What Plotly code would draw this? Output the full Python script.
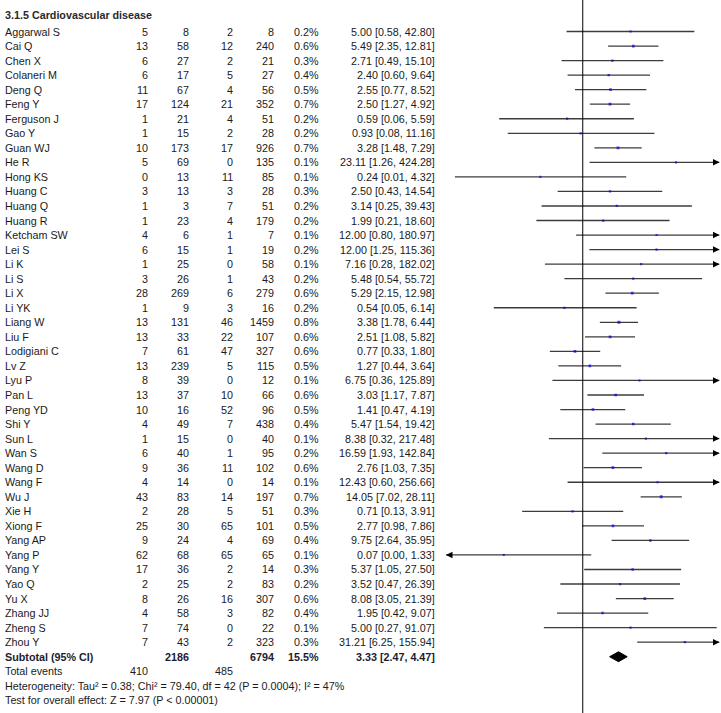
import math
import plotly.graph_objects as go

# ---------------- data ----------------
studies = ["Aggarwal S", "Cai Q", "Chen X", "Colaneri M", "Deng Q", "Feng Y", "Ferguson J",
           "Gao Y", "Guan WJ", "He R", "Hong KS", "Huang C", "Huang Q", "Huang R",
           "Ketcham SW", "Lei S", "Li K", "Li S", "Li X", "Li YK", "Liang W", "Liu F",
           "Lodigiani C", "Lv Z", "Lyu P", "Pan L", "Peng YD", "Shi Y", "Sun L", "Wan S",
           "Wang D", "Wang F", "Wu J", "Xie H", "Xiong F", "Yang AP", "Yang P", "Yang Y",
           "Yao Q", "Yu X", "Zhang JJ", "Zheng S", "Zhou Y"]
events_exp = [5, 13, 6, 6, 11, 17, 1, 1, 10, 5, 0, 3, 1, 1, 4, 6, 1, 3, 28, 1, 13, 13, 7, 13,
              8, 13, 10, 4, 1, 6, 9, 4, 43, 2, 25, 9, 62, 17, 2, 8, 4, 7, 7]
total_exp = [8, 58, 27, 17, 67, 124, 21, 15, 173, 69, 13, 13, 3, 23, 6, 15, 25, 26, 269, 9,
             131, 33, 61, 239, 39, 37, 16, 49, 15, 40, 36, 14, 83, 28, 30, 24, 68, 36, 25,
             26, 58, 74, 43]
events_ctl = [2, 12, 2, 5, 4, 21, 4, 2, 17, 0, 11, 3, 7, 4, 1, 1, 0, 1, 6, 3, 46, 22, 47, 5,
              0, 10, 52, 7, 0, 1, 11, 0, 14, 5, 65, 4, 65, 2, 2, 16, 3, 0, 2]
total_ctl = [8, 240, 21, 27, 56, 352, 51, 28, 926, 135, 85, 28, 51, 179, 7, 19, 58, 43, 279,
             16, 1459, 107, 327, 115, 12, 66, 96, 438, 40, 95, 102, 14, 197, 51, 101, 69, 65,
             14, 83, 307, 82, 22, 323]
weight = [0.2, 0.6, 0.3, 0.4, 0.5, 0.7, 0.2, 0.2, 0.7, 0.1, 0.1, 0.3, 0.2, 0.2, 0.1, 0.2, 0.1,
          0.2, 0.6, 0.2, 0.8, 0.6, 0.6, 0.5, 0.1, 0.6, 0.5, 0.4, 0.1, 0.2, 0.6, 0.1, 0.7, 0.3,
          0.5, 0.4, 0.1, 0.3, 0.2, 0.6, 0.4, 0.1, 0.3]
odds_ratio = [5.00, 5.49, 2.71, 2.40, 2.55, 2.50, 0.59, 0.93, 3.28, 23.11, 0.24, 2.50, 3.14,
              1.99, 12.00, 12.00, 7.16, 5.48, 5.29, 0.54, 3.38, 2.51, 0.77, 1.27, 6.75, 3.03,
              1.41, 5.47, 8.38, 16.59, 2.76, 12.43, 14.05, 0.71, 2.77, 9.75, 0.07, 5.37, 3.52,
              8.08, 1.95, 5.00, 31.21]
ci_low = [0.58, 2.35, 0.49, 0.60, 0.77, 1.27, 0.06, 0.08, 1.48, 1.26, 0.0135, 0.43, 0.25,
          0.21, 0.80, 1.25, 0.28, 0.54, 2.15, 0.05, 1.78, 1.08, 0.33, 0.44, 0.36, 1.17, 0.47,
          1.54, 0.32, 1.93, 1.03, 0.60, 7.02, 0.13, 0.98, 2.64, 0.004, 1.05, 0.47, 3.05, 0.42,
          0.27, 6.25]
ci_high = [42.80, 12.81, 15.10, 9.64, 8.52, 4.92, 5.59, 11.16, 7.29, 424.28, 4.32, 14.54,
           39.43, 18.60, 180.97, 115.36, 182.02, 55.72, 12.98, 6.14, 6.44, 5.82, 1.80, 3.64,
           125.89, 7.87, 4.19, 19.42, 217.48, 142.84, 7.35, 256.66, 28.11, 3.91, 7.86, 35.95,
           1.33, 27.50, 26.39, 21.39, 9.07, 91.07, 155.94]

subgroup_title = "3.1.5 Cardiovascular disease"
subtotal_label = "Subtotal (95% CI)"
subtotal_total_exp = 2186
subtotal_total_ctl = 6794
subtotal_weight = 15.5
subtotal_or = 3.33
subtotal_low = 2.47
subtotal_high = 4.47
total_events_exp = 410
total_events_ctl = 485
heterogeneity_text = "Heterogeneity: Tau\u00b2 = 0.38; Chi\u00b2 = 79.40, df = 42 (P = 0.0004); I\u00b2 = 47%"
overall_text = "Test for overall effect: Z = 7.97 (P < 0.00001)"

axis_min, axis_max = 0.01, 100

# ---------------- layout constants ----------------
W, H = 721, 713
ROW0_PX, ROW_PX = 31.5, 14.54
FONT = "Arial, 'Liberation Sans', sans-serif"
FS = 10.75
TXT = "#1a1a1a"
col_name = 3
col_right = [149.5, 190.5, 234.5, 275.5, 320.5, 437.5]
plot_left, plot_right = 446, 719.5

n = len(studies)
rows = list(range(n))
sub_row = n
tot_row = n + 1
het_row = n + 2
test_row = n + 3
title_row = -1.13

fig = go.Figure()

# CI lines
for i in rows:
    lo = max(ci_low[i], axis_min)
    hi = min(ci_high[i], axis_max)
    fig.add_trace(go.Scatter(x=[lo, hi], y=[i, i], mode="lines",
                             line=dict(color="#3c3c3c", width=1.3),
                             hoverinfo="skip", showlegend=False))

# point estimates
fig.add_trace(go.Scatter(x=odds_ratio, y=rows, mode="markers",
                         marker=dict(symbol="square", color="#0000ee",
                                     size=[2.0 + w * 1.2 for w in weight], line=dict(width=0)),
                         hoverinfo="skip", showlegend=False))

# subtotal diamond
dh = 0.34
fig.add_trace(go.Scatter(x=[subtotal_low, subtotal_or, subtotal_high, subtotal_or, subtotal_low],
                         y=[sub_row, sub_row - dh, sub_row, sub_row + dh, sub_row],
                         mode="lines", fill="toself", fillcolor="black",
                         line=dict(color="black", width=1), hoverinfo="skip", showlegend=False))

y_top = -ROW0_PX / ROW_PX
y_bot = (H - ROW0_PX) / ROW_PX

# line of no effect
fig.add_trace(go.Scatter(x=[1, 1], y=[y_top, y_bot], mode="lines",
                         line=dict(color="black", width=1), hoverinfo="skip", showlegend=False))

annotations = []

# arrowheads for clipped CIs
for i in rows:
    if ci_high[i] > axis_max:
        annotations.append(dict(x=math.log10(axis_max), y=i, xref="x", yref="y", ax=-7, ay=0,
                                showarrow=True, arrowhead=2, arrowsize=1, arrowwidth=1.3,
                                arrowcolor="black", text="", standoff=0))
    if ci_low[i] < axis_min:
        annotations.append(dict(x=math.log10(axis_min), y=i, xref="x", yref="y", ax=7, ay=0,
                                showarrow=True, arrowhead=2, arrowsize=1, arrowwidth=1.3,
                                arrowcolor="black", text="", standoff=0))


def txt(x_px, y, s, anchor="right", bold=False, color=TXT):
    annotations.append(dict(x=x_px / W, y=y, xref="paper", yref="y",
                            text=("<b>" + s + "</b>") if bold else s,
                            xanchor=anchor, yanchor="middle", showarrow=False,
                            font=dict(family=FONT, size=FS, color=color)))


txt(col_name, title_row, subgroup_title, anchor="left", bold=True, color="#2a2a2a")
for i in rows:
    txt(col_name, i, studies[i], anchor="left")
    txt(col_right[0], i, str(events_exp[i]))
    txt(col_right[1], i, str(total_exp[i]))
    txt(col_right[2], i, str(events_ctl[i]))
    txt(col_right[3], i, str(total_ctl[i]))
    txt(col_right[4], i, f"{weight[i]:.1f}%")
    txt(col_right[5], i, f"{odds_ratio[i]:.2f} [{ci_low[i]:.2f}, {ci_high[i]:.2f}]")

txt(col_name, sub_row, subtotal_label, anchor="left", bold=True, color="#1c1c30")
txt(col_right[1], sub_row, str(subtotal_total_exp), bold=True, color="#1c1c30")
txt(col_right[3], sub_row, str(subtotal_total_ctl), bold=True, color="#1c1c30")
txt(col_right[4], sub_row, f"{subtotal_weight:.1f}%", bold=True, color="#1c1c30")
txt(col_right[5], sub_row, f"{subtotal_or:.2f} [{subtotal_low:.2f}, {subtotal_high:.2f}]",
    bold=True, color="#1c1c30")

txt(col_name, tot_row, "Total events", anchor="left")
txt(col_right[0], tot_row, str(total_events_exp))
txt(col_right[2], tot_row, str(total_events_ctl))
txt(col_name, het_row, heterogeneity_text, anchor="left")
txt(col_name, test_row, overall_text, anchor="left")

fig.update_layout(
    width=W, height=H,
    margin=dict(l=0, r=0, t=0, b=0),
    paper_bgcolor="white", plot_bgcolor="white",
    showlegend=False,
    annotations=annotations,
    xaxis=dict(type="log", range=[math.log10(axis_min), math.log10(axis_max)],
               domain=[plot_left / W, plot_right / W], visible=False, fixedrange=True),
    yaxis=dict(range=[y_bot, y_top], domain=[0, 1], visible=False, fixedrange=True),
)

fig.write_html("out.html", config={"displayModeBar": False, "staticPlot": True},
               post_script="document.body.style.margin='0px';")
